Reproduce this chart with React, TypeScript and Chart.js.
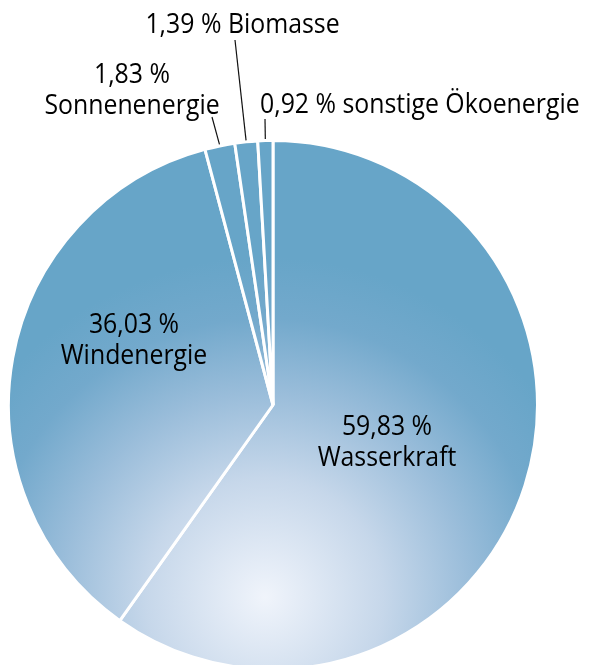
import React, { useEffect, useRef } from 'react';
import { Chart, registerables } from 'chart.js';

Chart.register(...registerables);

// ---- data ----
const categories = ['Wasserkraft', 'Windenergie', 'Sonnenenergie', 'Biomasse', 'sonstige Ökoenergie'];
const shares = [59.83, 36.03, 1.83, 1.39, 0.92];
const shareLabels = ['59,83 %', '36,03 %', '1,83 %', '1,39 %', '0,92 %'];

// ---- label layout (offsets from pie centre, px) ----
type LabelCfg = {
  lines: string[];
  dx: number;
  dy: number; // baseline of first line
  align: CanvasTextAlign;
  leader?: [number, number];
};
const labelLayout: LabelCfg[] = [
  { lines: [shareLabels[0], categories[0]], dx: 114, dy: 30, align: 'center' },
  { lines: [shareLabels[1], categories[1]], dx: -139, dy: -72, align: 'center' },
  { lines: [shareLabels[2], categories[2]], dx: -141, dy: -322, align: 'center', leader: [-61, -288] },
  { lines: [shareLabels[3] + ' ' + categories[3]], dx: -30.5, dy: -372, align: 'center', leader: [-38, -365] },
  { lines: [shareLabels[4] + ' ' + categories[4]], dx: -13, dy: -292, align: 'left', leader: [-8, -286] },
];

const FONT_FAMILY = '"Open Sans", "Noto Sans", sans-serif';
const FONT_SIZE = 27;
const TEXT_SCALE_X = 0.92;
const LINE_HEIGHT = 30.5;
const PIE_RADIUS = 264.5;

const labelPlugin = {
  id: 'pieLabels',
  afterDatasetsDraw(chart: any) {
    const ctx: CanvasRenderingContext2D = chart.ctx;
    const meta = chart.getDatasetMeta(0);
    ctx.save();
    ctx.font = `${FONT_SIZE}px ${FONT_FAMILY}`;
    ctx.fillStyle = '#000';
    ctx.textBaseline = 'alphabetic';
    meta.data.forEach((arc: any, i: number) => {
      const cfg = labelLayout[i];
      if (!cfg) return;
      const { x, y, startAngle, endAngle, outerRadius } = arc.getProps(
        ['x', 'y', 'startAngle', 'endAngle', 'outerRadius'],
        true
      );
      if (cfg.leader) {
        const mid = (startAngle + endAngle) / 2;
        const r = outerRadius + 1.5;
        ctx.beginPath();
        ctx.strokeStyle = '#111';
        ctx.lineWidth = 1.2;
        ctx.moveTo(x + Math.cos(mid) * r, y + Math.sin(mid) * r);
        ctx.lineTo(x + cfg.leader[0], y + cfg.leader[1]);
        ctx.stroke();
      }
      ctx.textAlign = cfg.align;
      cfg.lines.forEach((line, li) => {
        const tx = x + cfg.dx;
        const ty = y + cfg.dy + li * LINE_HEIGHT;
        ctx.save();
        ctx.translate(tx, ty);
        ctx.scale(TEXT_SCALE_X, 1);
        ctx.fillText(line, 0, 0);
        ctx.restore();
      });
    });
    ctx.restore();
  },
};

let gradCache: { key: string; g: CanvasGradient } | null = null;
function pieGradient(context: any) {
  const chart = context.chart;
  const area = chart.chartArea;
  if (!area) return '#67a5c8';
  const cx = (area.left + area.right) / 2;
  const cy = (area.top + area.bottom) / 2;
  const key = `${cx},${cy}`;
  if (gradCache && gradCache.key === key) return gradCache.g;
  const gx = cx - 8;
  const gy = cy + 192;
  const g = chart.ctx.createRadialGradient(gx, gy, 0, gx, gy, 340);
  g.addColorStop(0, '#f0f4fb');
  g.addColorStop(0.35, '#c6d7ea');
  g.addColorStop(0.6, '#9abdda');
  g.addColorStop(0.82, '#73a9cc');
  g.addColorStop(1, '#67a5c8');
  gradCache = { key, g };
  return g;
}

export default function App() {
  const canvasRef = useRef<HTMLCanvasElement | null>(null);

  useEffect(() => {
    if (!canvasRef.current) return;
    gradCache = null;
    const chart = new Chart(canvasRef.current, {
      type: 'pie',
      data: {
        labels: categories,
        datasets: [
          {
            data: shares,
            backgroundColor: pieGradient as any,
            borderColor: '#ffffff',
            borderWidth: 3,
            radius: PIE_RADIUS,
          } as any,
        ],
      },
      options: {
        responsive: false,
        animation: false,
        rotation: 0,
        layout: { padding: { left: 3, top: 135, right: 54, bottom: 5 } },
        plugins: {
          legend: { display: false },
          tooltip: { enabled: false },
        },
      },
      plugins: [labelPlugin],
    });
    return () => chart.destroy();
  }, []);

  return (
    <div
      style={{
        position: 'fixed',
        left: 0,
        top: 0,
        width: 597,
        height: 665,
        overflow: 'hidden',
        background: '#ffffff',
      }}
    >
      <canvas ref={canvasRef} width={597} height={680} style={{ display: 'block' }} />
    </div>
  );
}
